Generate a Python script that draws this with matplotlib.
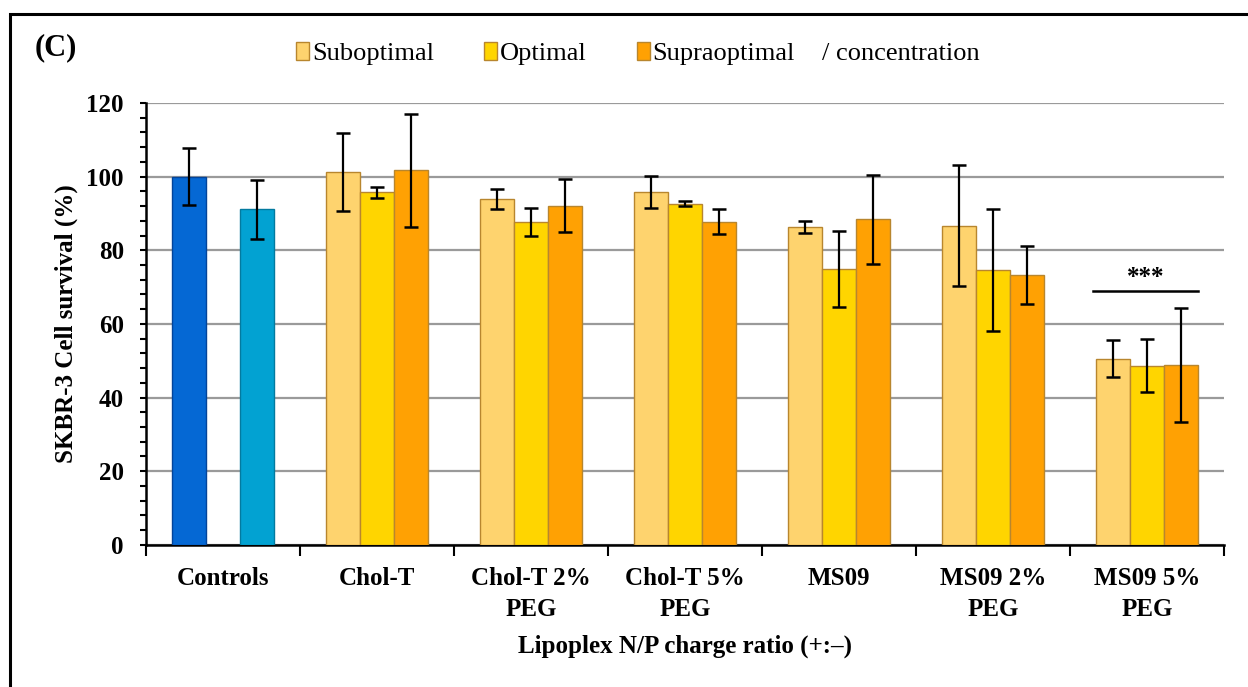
import matplotlib
matplotlib.use("Agg")
import matplotlib.pyplot as plt
from matplotlib.patches import Patch, Rectangle
from matplotlib.ticker import MultipleLocator
import numpy as np

plt.rcParams["font.family"] = ["Liberation Serif", "DejaVu Serif"]

# 數據
groups = ["Controls", "Chol-T", "Chol-T 2%\nPEG", "Chol-T 5%\nPEG",
          "MS09", "MS09 2%\nPEG", "MS09 5%\nPEG"]
control_vals = [100.0, 91.1]
control_err = [7.8, 8.0]
sub_vals = [101.2, 93.9, 95.9, 86.3, 86.7, 50.6]
sub_err = [10.6, 2.7, 4.3, 1.7, 16.4, 5.0]
opt_vals = [95.8, 87.6, 92.7, 75.0, 74.6, 48.7]
opt_err = [1.5, 3.8, 0.8, 10.3, 16.6, 7.2]
supra_vals = [101.7, 92.1, 87.8, 88.4, 73.2, 48.9]
supra_err = [15.4, 7.2, 3.5, 12.0, 7.9, 15.5]
sig_level = 69
sig_label = "***"

C_CTRL = ["#0568D4", "#02A2D2"]
C_SUB, C_OPT, C_SUPRA = "#FED36E", "#FFD500", "#FFA103"
EDGE = "#B8862E"

fig = plt.figure(figsize=(12.48, 6.87), dpi=100)
ax = fig.add_axes([0.117, 0.207, 0.864, 0.643])

w = 0.22
x = np.arange(len(groups))
ekw = dict(ecolor="black", elinewidth=1.6, capsize=5, capthick=1.8)

ax.bar([x[0] - w, x[0] + w], control_vals, w, yerr=control_err,
       color=C_CTRL, edgecolor=["#03449a", "#037a9f"], linewidth=1.0,
       error_kw=ekw, zorder=3)
xs = x[1:]
ax.bar(xs - w, sub_vals, w, yerr=sub_err, color=C_SUB, edgecolor=EDGE,
       linewidth=1.0, error_kw=ekw, zorder=3, label="Suboptimal")
ax.bar(xs, opt_vals, w, yerr=opt_err, color=C_OPT, edgecolor=EDGE,
       linewidth=1.0, error_kw=ekw, zorder=3, label="Optimal")
ax.bar(xs + w, supra_vals, w, yerr=supra_err, color=C_SUPRA, edgecolor=EDGE,
       linewidth=1.0, error_kw=ekw, zorder=3, label="Supraoptimal")

# 顯著性標記
gx = x[-1]
ax.plot([gx - 0.35, gx + 0.33], [sig_level, sig_level], color="black",
        linewidth=1.8, zorder=4)
ax.text(gx - 0.01, sig_level + 0.6, sig_label, ha="center", va="bottom",
        fontsize=18, fontweight="bold")

ax.set_xlim(-0.5, len(groups) - 0.5)
ax.set_ylim(0, 120)
ax.yaxis.set_major_locator(MultipleLocator(20))
ax.yaxis.set_minor_locator(MultipleLocator(4))
ax.grid(True, axis="y", color="#9a9a9a", linewidth=1.6, zorder=0)
ax.set_axisbelow(True)

ax.set_xticks(np.arange(len(groups) + 1) - 0.5, minor=True)
ax.set_xticks(x)
ax.set_xticklabels(groups, fontsize=18, fontweight="bold", linespacing=1.45)
ax.tick_params(axis="x", which="major", length=0, pad=16)
ax.tick_params(axis="x", which="minor", length=8, width=1.5, direction="out")
ax.tick_params(axis="y", which="both", length=4, width=1.5)
ax.tick_params(axis="y", which="major", labelsize=18, pad=12)
for lab in ax.get_yticklabels():
    lab.set_fontweight("bold")

for s in ("top", "right"):
    ax.spines[s].set_visible(False)
for s in ("left", "bottom"):
    ax.spines[s].set_linewidth(1.8)

ax.set_ylabel("SKBR-3 Cell survival (%)", fontsize=18, fontweight="bold",
              labelpad=6)
ax.set_xlabel("Lipoplex N/P charge ratio (+:\u2013)", fontsize=18,
              fontweight="bold", labelpad=10)

handles = [Patch(facecolor=c, edgecolor=EDGE) for c in (C_SUB, C_OPT, C_SUPRA)]
fig.legend(handles, ["Suboptimal", "Optimal", "Supraoptimal"],
           loc="center", bbox_to_anchor=(0.437, 0.922), ncol=3, frameon=False,
           fontsize=19, handlelength=0.5, handleheight=0.65, handletextpad=0.1,
           columnspacing=1.9)
fig.text(0.659, 0.922, "/ concentration", fontsize=19, va="center", ha="left")
fig.text(0.028, 0.93, "(C)", fontsize=22, fontweight="bold", va="center")

# 外框
fig.patches.append(Rectangle((0.008, -0.2), 1.5, 1.18, transform=fig.transFigure,
                             fill=False, edgecolor="black", linewidth=2.2))

fig.savefig("out.png", dpi=100)
